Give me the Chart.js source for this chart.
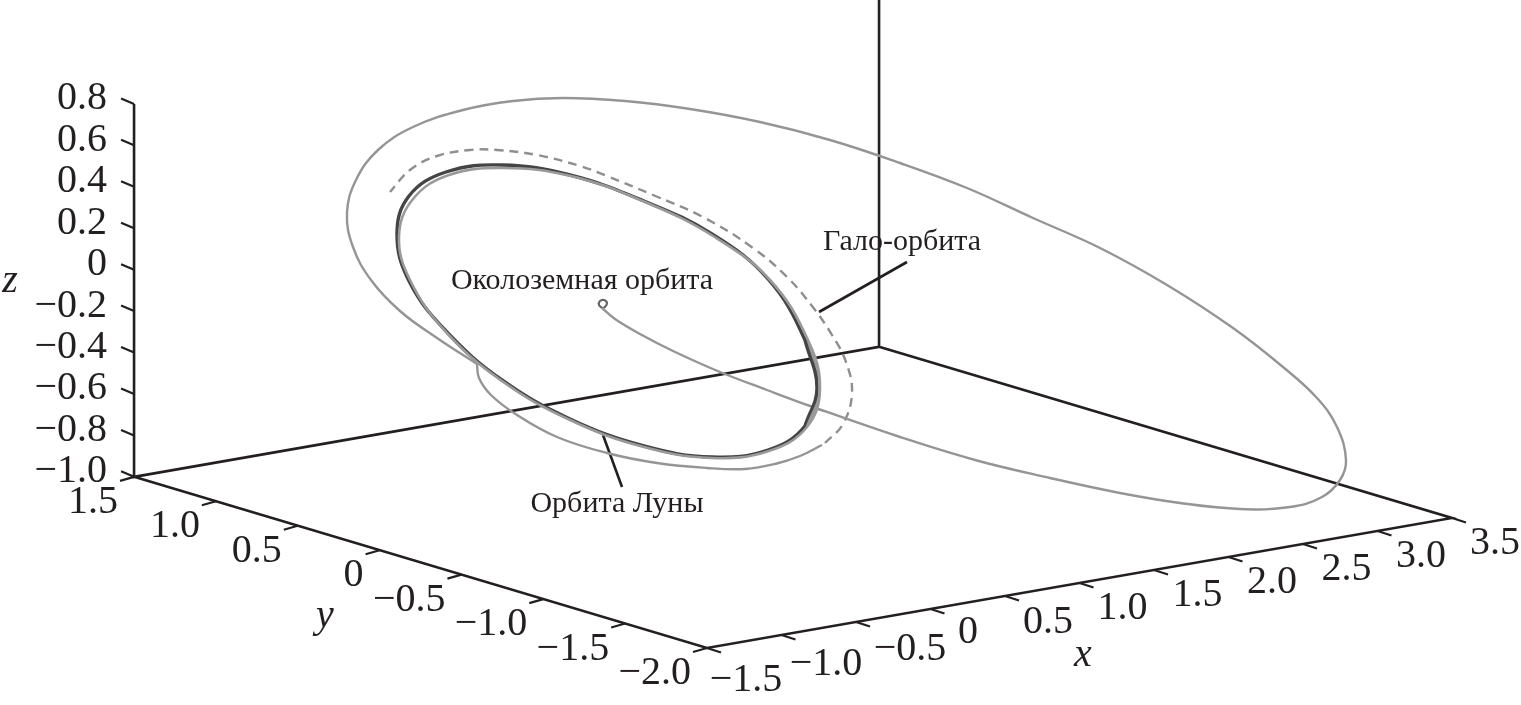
<!DOCTYPE html>
<html><head><meta charset="utf-8">
<style>html,body{margin:0;padding:0;background:#fff}canvas{display:block}</style>
<script src="https://cdn.jsdelivr.net/npm/chart.js@4"></script>
</head><body><canvas id="c" width="1521" height="705"></canvas>
<script>
const xTicks=[-1.5,-1,-0.5,0,0.5,1,1.5,2,2.5,3,3.5];
const yTicks=[1.5,1,0.5,0,-0.5,-1,-1.5,-2];
const zTicks=[0.8,0.6,0.4,0.2,0,-0.2,-0.4,-0.6,-0.8,-1];
const xTickText=["−1.5","−1.0","−0.5","0","0.5","1.0","1.5","2.0","2.5","3.0","3.5"];
const yTickText=["1.5","1.0","0.5","0","−0.5","−1.0","−1.5","−2.0"];
const zTickText=["0.8","0.6","0.4","0.2","0","−0.2","−0.4","−0.6","−0.8","−1.0"];
// orbit traces: [horizontal, vertical]; the loops overlap where they close
const moonOrbit=[[805,340],[817,388],[805,426],[768,450],[712,457],[644,446],[570,419],[502,380],[446,331],[409,281],[397,234],[409,196],[446,172],[502,165],[570,175],[644,201],[712,234],[768,279],[805,340],[817,388],[805,426]];
const moonOrbitSecond=[[808,340],[820,388],[807,427],[769,451],[712,458],[644,447],[570,420],[502,381],[446,332],[410,280],[399,236],[413,199],[449,175],[503,168],[571,176],[645,202],[713,236],[770,280],[808,340],[820,388],[807,427]];
const transferOrbit=[[602,308],[615,319],[640,334],[673,351],[720,372],[767,390],[813,407],[900,437],[975,460],[1050,478],[1120,493],[1180,503],[1240,509],[1290,507],[1322,497],[1340,480],[1346,460],[1337,427],[1317,398],[1283,367],[1233,328],[1167,285],[1100,248],[1033,218],[967,188],[900,163],[830,140],[760,122],[690,109],[625,101],[563,98],[513,101],[463,110],[413,127],[378,150],[356,180],[347,213],[353,247],[371,280],[400,311],[437,338],[477,364]];
const earthLoop=[[602,308],[599,305],[600,301],[604,300],[607,303],[605,307],[602,308]];
const arrivalArc=[[477,364],[479,378],[491,395],[517,415],[557,437],[607,453],[657,463],[707,468],[745,469],[775,464],[800,456],[822,445]];
const haloOrbit=[[825,443],[843,424],[852,393],[846,362],[832,335],[812,306],[787,277],[753,248],[703,217],[653,195],[607,176],[580,166],[537,155],[497,150],[470,150],[437,156],[410,170],[390,192]];
const haloLeader=[[819,312],[907,262]];
const moonLeader=[[603,435],[622,487]];
const notes=[["Гало-орбита",902,240],["Околоземная орбита",582,279],["Орбита Луны",617,502]];
const axisNames=[["z",10,281],["y",325,616],["x",1083,655]];

// picture-plane projection of the plot box, read from its corners
const px=(x,y)=>707+(x+1.5)*149-(y+2)*163.7;
const py=(x,y,z)=>648-(x+1.5)*26-(y+2)*48.9-(z+1)*207.2;
const P=(x,y,z)=>({x:px(x,y),y:py(x,y,z)});
const xy=a=>a.map(p=>({x:p[0],y:p[1]}));
const BREAK={x:null,y:null};

const boxLines=[P(-1.5,1.5,0.8),P(-1.5,1.5,-1),P(3.5,1.5,-1),P(3.5,1.5,0.8),BREAK,
 P(-1.5,1.5,-1),P(-1.5,-2,-1),P(3.5,-2,-1),P(3.5,1.5,-1)];
const tickLines=[];
zTicks.forEach(z=>{const a=P(-1.5,1.5,z);tickLines.push(a,{x:a.x-13,y:a.y-5.5},BREAK);});
yTicks.forEach(y=>{const a=P(-1.5,y,-1);tickLines.push(a,{x:a.x-14,y:a.y+4},BREAK);});
xTicks.forEach(x=>{const a=P(x,-2,-1);tickLines.push(a,{x:a.x+14,y:a.y+4.5},BREAK);});

const line=(label,data,color,width,extra={})=>Object.assign({label,data,borderColor:color,borderWidth:width,showLine:true,pointRadius:0,tension:0,fill:false},extra);
const AX="#231f20";
// hand-set label placement in the original, relative to each x tick
const xLabelShift=[[39,32],[44.5,29.5],[54,27.5],[37.5,23.5],[43,26.5],[43,25.5],[43.5,25.5],[43.5,25.5],[43.5,25.5],[43.5,25],[43,25.5]];
const labelsPlugin={id:"labels",afterDatasetsDraw(chart){
 const g=chart.ctx,sx=chart.scales.x,sy=chart.scales.y;
 g.save();g.fillStyle=AX;g.textBaseline="middle";
 const put=(t,x,y)=>g.fillText(t,sx.getPixelForValue(x),sy.getPixelForValue(y));
 g.font='40px "Liberation Serif"';
 g.textAlign="right";
 zTicks.forEach((z,i)=>{const a=P(-1.5,1.5,z);put(zTickText[i],a.x-27,a.y-5);});
 yTicks.forEach((y,i)=>{const a=P(-1.5,y,-1);put(yTickText[i],a.x-16,a.y+25.5);});
 g.textAlign="center";
 xTicks.forEach((x,i)=>{const a=P(x,-2,-1),s=xLabelShift[i];put(xTickText[i],a.x+s[0],a.y+s[1]);});
 g.font='italic 40px "Liberation Serif"';
 axisNames.forEach(n=>put(n[0],n[1],n[2]));
 g.font='30px "Liberation Serif"';
 notes.forEach(n=>put(n[0],n[1],n[2]+2));
 g.restore();
}};
new Chart(document.getElementById("c"),{type:"scatter",
 data:{datasets:[
  line("Орбита Луны, витки",xy(moonOrbitSecond),"#9a9a9a",2.6,{tension:0.4}),
  line("Орбита Луны",xy(moonOrbit),"#444444",3.4,{tension:0.4}),
  line("Переходная",xy(transferOrbit),"#959595",2.4,{tension:0.4}),
  line("Петля",xy(earthLoop),"#666666",2.2,{tension:0.4}),
  line("Подход",xy(arrivalArc),"#959595",2.4,{tension:0.4}),
  line("Гало-орбита",xy(haloOrbit),"#8f8f8f",2.4,{tension:0.4,borderDash:[9,6]}),
  line("Оси",boxLines,AX,2.6),
  line("Деления",tickLines,AX,2.2),
  line("Выноска гало",xy(haloLeader),AX,2.6),
  line("Выноска Луны",xy(moonLeader),AX,2.6)
 ]},
 options:{responsive:false,animation:false,
  layout:{padding:0},
  plugins:{legend:{display:false},tooltip:{enabled:false}},
  scales:{x:{type:"linear",display:false,min:0,max:1521},y:{type:"linear",display:false,min:0,max:705,reverse:true}}},
 plugins:[labelsPlugin]});
</script></body></html>
